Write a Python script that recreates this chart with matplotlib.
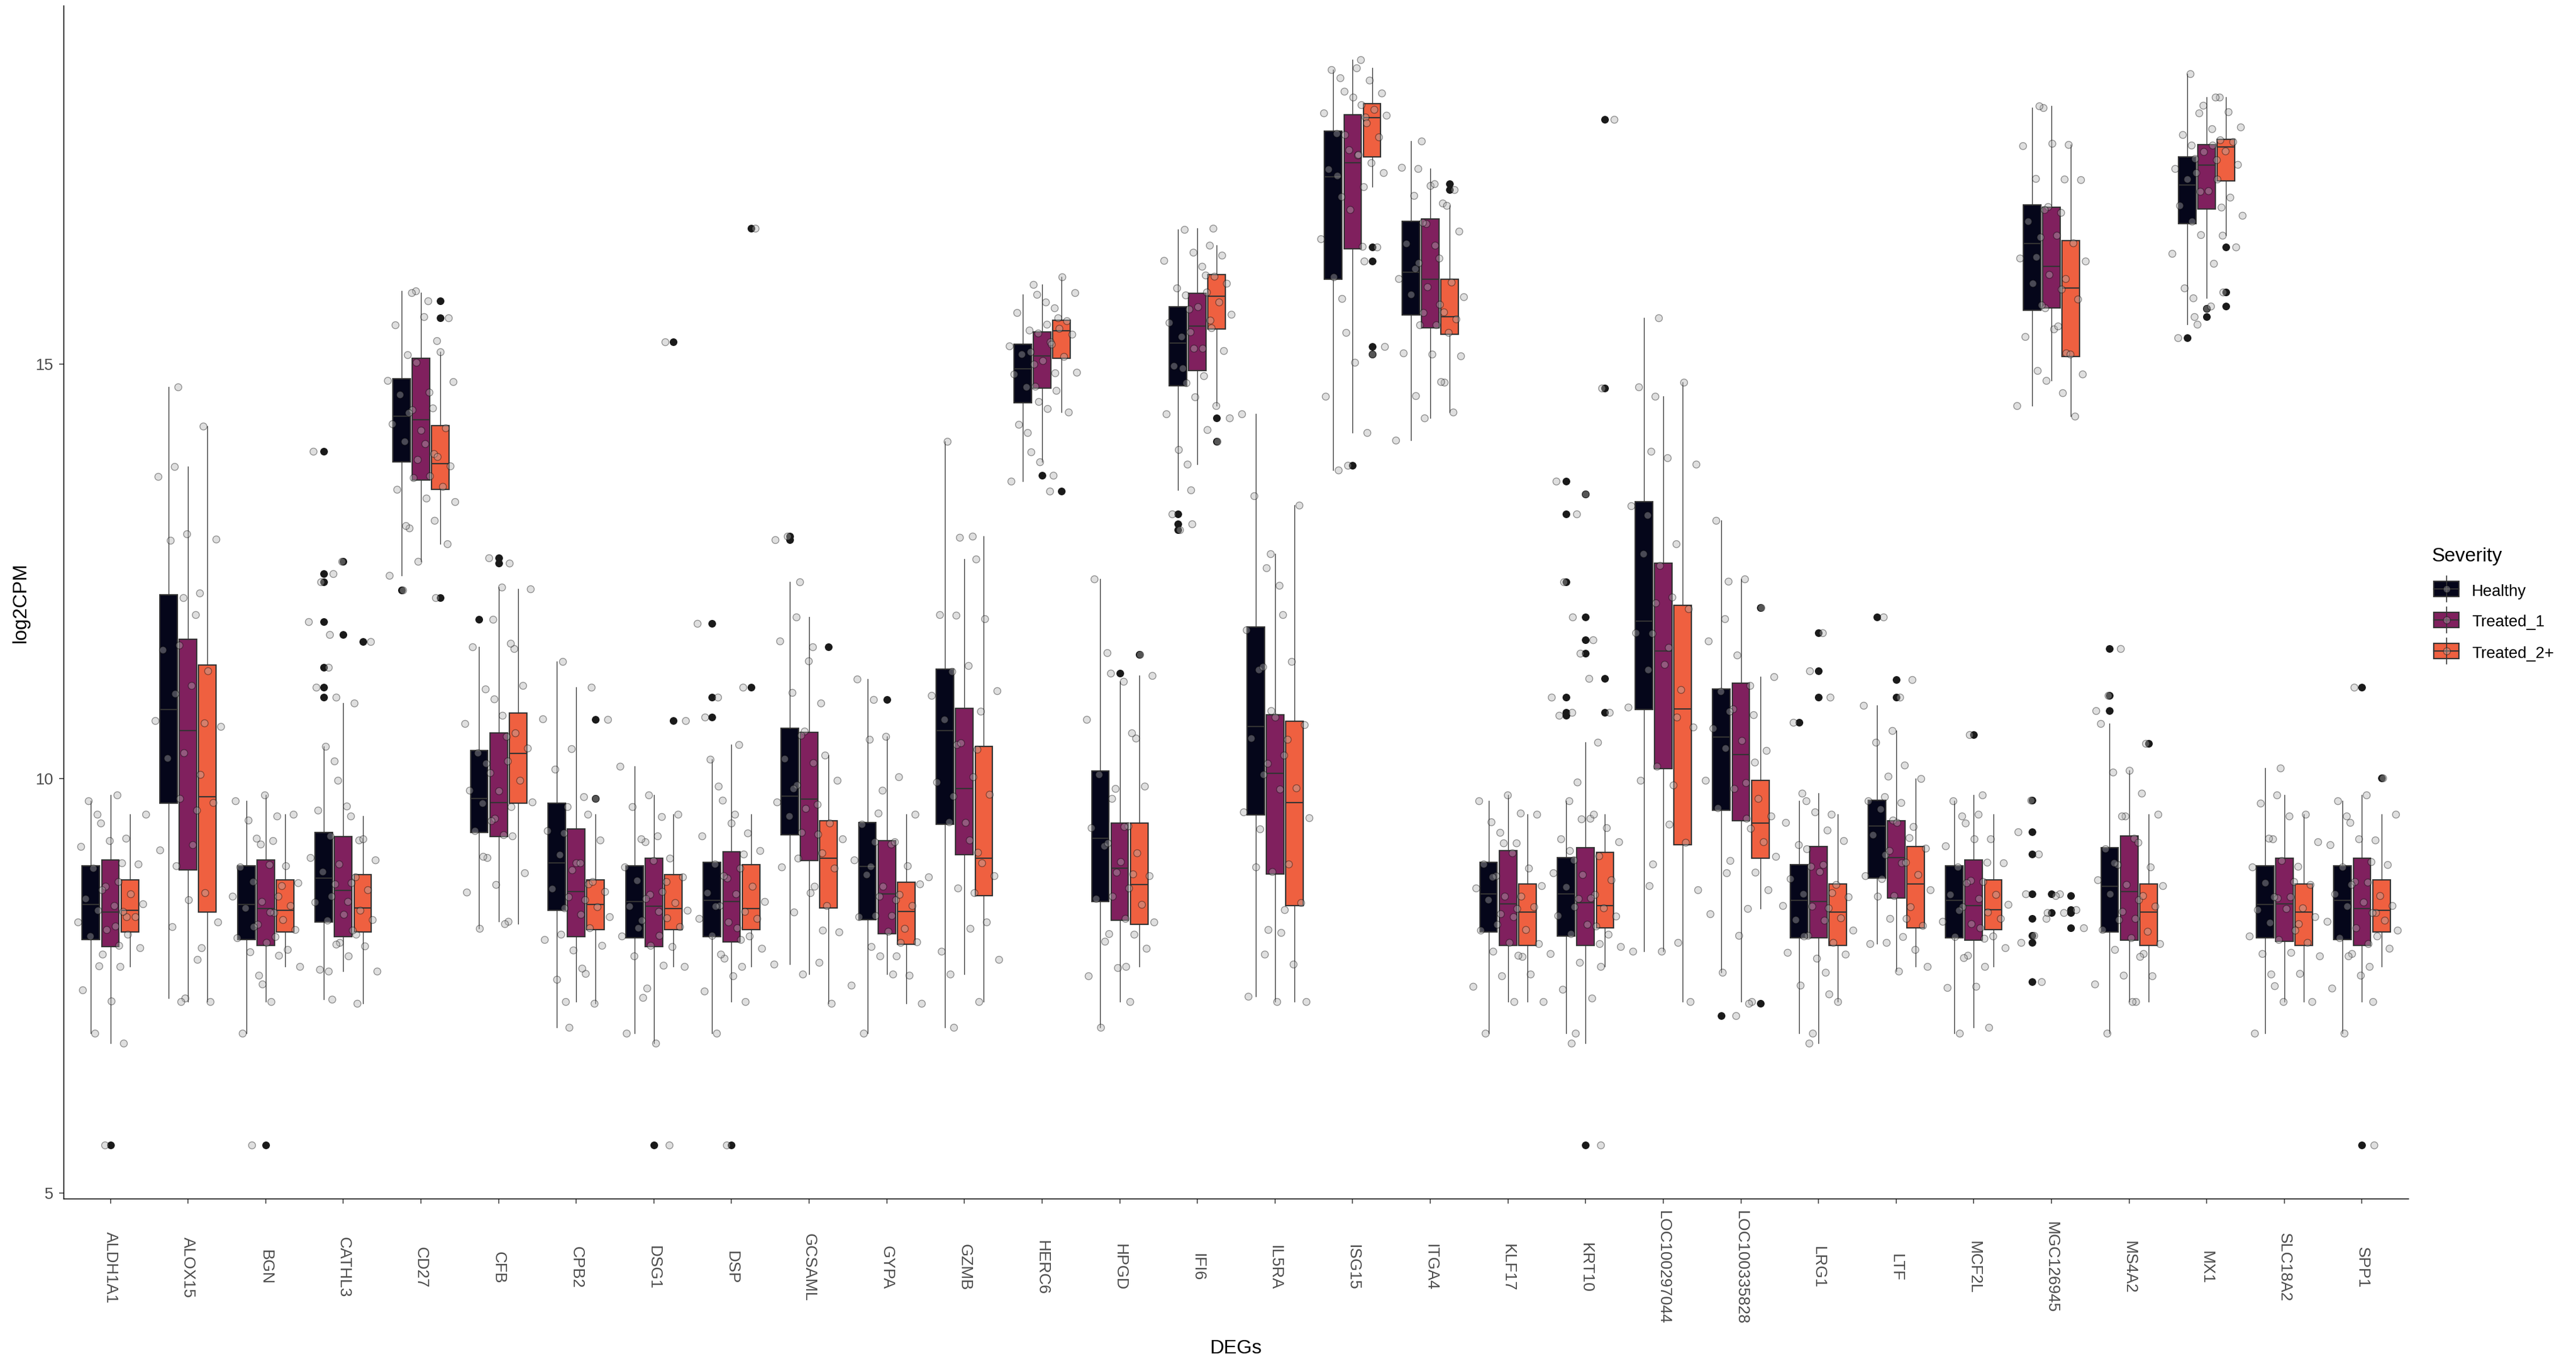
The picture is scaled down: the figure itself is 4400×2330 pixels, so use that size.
import numpy as np
import matplotlib
matplotlib.use('Agg')
import matplotlib.pyplot as plt
from matplotlib.patches import Rectangle

plt.rcParams['font.family'] = ['Liberation Sans', 'DejaVu Sans']

# genes on the x axis
GENES = ['ALDH1A1', 'ALOX15', 'BGN', 'CATHL3', 'CD27', 'CFB', 'CPB2', 'DSG1', 'DSP',
         'GCSAML', 'GYPA', 'GZMB', 'HERC6', 'HPGD', 'IFI6', 'IL5RA', 'ISG15', 'ITGA4',
         'KLF17', 'KRT10', 'LOC100297044', 'LOC100335828', 'LRG1', 'LTF', 'MCF2L',
         'MGC126945', 'MS4A2', 'MX1', 'SLC18A2', 'SPP1']
GROUPS = ['Healthy', 'Treated_1', 'Treated_2+']
COLORS = ['#05061A', '#80205E', '#EF6040']

# box summaries: (whisker low, q1, median, q3, whisker high)
healthy_box = [
    (6.93, 8.06, 8.48, 8.95, 9.73), (7.35, 9.70, 10.83, 12.22, 14.72),
    (6.93, 8.06, 8.48, 8.95, 9.73), (7.34, 8.27, 8.80, 9.35, 10.39),
    (12.45, 13.82, 14.37, 14.82, 15.88), (8.19, 9.35, 9.76, 10.34, 11.59),
    (7.00, 8.41, 8.98, 9.70, 11.41), (6.93, 8.08, 8.52, 8.95, 10.15),
    (6.93, 8.09, 8.53, 8.99, 10.23), (7.76, 9.32, 9.79, 10.61, 12.37),
    (6.93, 8.30, 8.94, 9.47, 11.20), (7.00, 9.45, 10.58, 11.32, 14.07),
    (13.59, 14.53, 14.94, 15.24, 15.84), (7.00, 8.52, 9.28, 10.09, 12.41),
    (13.48, 14.74, 15.25, 15.69, 16.62), (7.37, 9.56, 10.63, 11.83, 14.40),
    (13.72, 16.02, 17.26, 17.81, 18.55), (14.08, 15.59, 16.11, 16.72, 17.69),
    (6.93, 8.15, 8.61, 8.99, 9.73), (6.93, 8.10, 8.61, 9.05, 9.73),
    (7.92, 10.83, 11.90, 13.34, 15.56), (7.66, 9.62, 10.50, 11.08, 13.11),
    (6.93, 8.08, 8.53, 8.96, 9.73), (8.01, 8.80, 9.43, 9.74, 10.88),
    (6.93, 8.08, 8.53, 8.95, 9.73), (14.50, 15.65, 16.45, 16.92, 18.09),
    (6.93, 8.15, 8.70, 9.17, 10.66), (15.48, 16.69, 17.16, 17.50, 18.50),
    (6.93, 8.08, 8.48, 8.95, 10.13), (6.93, 8.06, 8.53, 8.95, 9.73),
]
treated1_box = [
    (6.81, 7.97, 8.39, 9.02, 9.80), (7.31, 8.90, 10.58, 11.68, 13.76),
    (7.31, 7.99, 8.43, 9.02, 9.80), (7.68, 8.09, 8.65, 9.30, 10.91),
    (12.62, 13.60, 14.33, 15.07, 15.86), (8.28, 9.30, 9.71, 10.55, 12.31),
    (7.31, 8.09, 8.64, 9.39, 11.10), (6.81, 7.97, 8.46, 9.04, 9.80),
    (7.31, 8.03, 8.52, 9.12, 10.41), (7.64, 9.01, 9.75, 10.56, 11.95),
    (7.64, 8.13, 8.61, 9.25, 10.51), (7.64, 9.08, 9.88, 10.85, 12.65),
    (13.82, 14.71, 15.10, 15.39, 15.96), (7.31, 8.29, 8.92, 9.46, 11.17),
    (13.79, 14.92, 15.46, 15.85, 16.64), (7.31, 8.85, 10.06, 10.77, 12.71),
    (14.17, 16.39, 17.43, 18.01, 18.67), (14.35, 15.44, 16.02, 16.75, 17.36),
    (7.31, 7.99, 8.49, 9.13, 9.80), (6.81, 7.99, 8.50, 9.17, 10.44),
    (7.92, 10.12, 11.54, 12.60, 14.61), (7.31, 9.49, 10.29, 11.15, 12.41),
    (6.81, 8.08, 8.52, 9.18, 9.82), (7.68, 8.56, 9.05, 9.49, 10.58),
    (7.00, 8.05, 8.47, 9.02, 9.80), (14.80, 15.68, 16.18, 16.89, 18.11),
    (7.31, 8.05, 8.64, 9.31, 10.10), (15.80, 16.87, 17.40, 17.65, 18.22),
    (7.31, 8.04, 8.49, 9.04, 9.80), (7.31, 7.99, 8.43, 9.04, 9.80),
]
treated2_box = [
    (7.73, 8.15, 8.41, 8.78, 9.57), (7.31, 8.39, 9.78, 11.37, 14.25),
    (7.73, 8.15, 8.41, 8.78, 9.57), (7.29, 8.15, 8.44, 8.84, 9.55),
    (12.83, 13.49, 13.80, 14.26, 15.15), (8.25, 9.70, 10.30, 10.79, 12.29),
    (7.29, 8.18, 8.48, 8.78, 9.57), (7.73, 8.18, 8.43, 8.84, 9.57),
    (7.73, 8.18, 8.43, 8.96, 9.57), (7.29, 8.44, 9.04, 9.49, 10.28),
    (7.29, 8.00, 8.40, 8.75, 9.57), (7.31, 8.59, 9.04, 10.39, 12.92),
    (14.42, 15.07, 15.40, 15.53, 16.05), (7.73, 8.24, 8.72, 9.46, 11.24),
    (14.50, 15.42, 15.82, 16.08, 16.43), (7.31, 8.47, 9.71, 10.69, 13.30),
    (17.14, 17.50, 17.97, 18.14, 18.57), (14.42, 15.36, 15.57, 16.02, 16.91),
    (7.31, 7.99, 8.39, 8.73, 9.57), (7.73, 8.20, 8.47, 9.11, 9.57),
    (7.31, 9.20, 10.84, 12.09, 14.78), (8.43, 9.04, 9.46, 9.98, 11.23),
    (7.31, 7.99, 8.39, 8.73, 9.57), (7.73, 8.20, 8.73, 9.18, 10.00),
    (7.73, 8.18, 8.42, 8.78, 9.57), (14.37, 15.09, 15.92, 16.49, 17.65),
    (7.31, 7.99, 8.39, 8.73, 9.57), (16.55, 17.21, 17.62, 17.71, 18.22),
    (7.31, 7.99, 8.39, 8.73, 9.57), (7.73, 8.15, 8.41, 8.78, 9.57),
]

# outliers (black dots)
healthy_out = [[], [], [], [13.95, 12.47, 12.37, 11.89, 11.34, 11.10, 10.98], [12.27], [11.92],
               [], [], [11.87, 10.98, 10.74], [12.92, 12.88], [], [], [], [],
               [13.19, 13.07, 13.00], [], [], [], [], [13.59, 13.19, 12.37, 10.98, 10.80, 10.76],
               [], [7.14], [10.68], [11.95], [], [9.74, 9.36, 9.09, 8.61, 8.31, 8.11, 8.02, 7.55],
               [11.57, 11.00, 10.82], [15.32], [], []]
treated1_out = [[5.58], [], [5.58], [12.62, 11.74], [], [12.66, 12.60], [], [5.58], [5.58], [],
                [10.95], [], [13.66], [11.27], [], [], [13.78], [], [],
                [13.43, 11.95, 11.67, 11.51, 5.58], [], [], [11.76, 11.30, 10.98], [11.19, 10.98],
                [10.53], [8.61, 8.38], [], [15.67, 15.57], [], [11.10, 5.58]]
treated2_out = [[], [], [], [11.65], [15.76, 15.56, 12.18], [], [10.71, 9.76], [15.27, 10.70],
                [16.64, 11.10], [11.59], [], [], [13.47], [11.50], [14.35, 14.07], [],
                [16.41, 16.24, 15.21, 15.12], [17.17, 17.10], [], [17.95, 14.71, 11.21, 10.80],
                [], [12.06, 7.29], [], [], [], [8.59, 8.42, 8.38, 8.20], [10.42],
                [16.41, 15.87, 15.70], [], [10.01]]

# individual samples (grey jittered points), estimated from the cloud
healthy_pts = [
    [6.93, 7.45, 7.88, 8.10, 8.27, 8.41, 8.55, 8.70, 8.92, 9.18, 9.46, 9.73],
    [7.35, 8.21, 9.14, 9.76, 10.25, 10.70, 11.02, 11.55, 12.18, 12.87, 13.64, 14.72],
    [6.93, 7.52, 7.91, 8.08, 8.24, 8.44, 8.58, 8.76, 8.93, 9.21, 9.50, 9.73],
    [7.34, 7.70, 8.02, 8.29, 8.51, 8.73, 8.88, 9.05, 9.31, 9.62, 9.98, 10.39],
    [12.45, 13.02, 13.49, 13.85, 14.07, 14.28, 14.45, 14.63, 14.80, 15.11, 15.47, 15.88],
    [8.19, 8.63, 9.05, 9.37, 9.52, 9.70, 9.86, 10.07, 10.31, 10.66, 11.08, 11.59],
    [7.00, 7.58, 8.06, 8.44, 8.67, 8.90, 9.08, 9.37, 9.66, 10.11, 10.72, 11.41],
    [6.93, 7.47, 7.86, 8.10, 8.29, 8.46, 8.60, 8.77, 8.93, 9.24, 9.66, 10.15],
    [6.93, 7.44, 7.83, 8.11, 8.31, 8.47, 8.62, 8.80, 8.97, 9.31, 9.74, 10.23],
    [7.76, 8.39, 8.93, 9.35, 9.55, 9.72, 9.92, 10.24, 10.57, 11.04, 11.66, 12.37],
    [6.93, 7.51, 7.97, 8.33, 8.58, 8.84, 9.02, 9.24, 9.45, 9.86, 10.47, 11.20],
    [7.00, 7.92, 8.81, 9.48, 9.96, 10.41, 10.71, 11.00, 11.29, 11.98, 12.91, 14.07],
    [13.59, 13.94, 14.27, 14.55, 14.72, 14.88, 15.00, 15.12, 15.22, 15.41, 15.62, 15.84],
    [7.00, 7.62, 8.13, 8.55, 8.87, 9.19, 9.41, 9.76, 10.05, 10.71, 11.52, 12.41],
    [13.48, 13.97, 14.40, 14.77, 14.98, 15.19, 15.33, 15.50, 15.66, 15.92, 16.25, 16.62],
    [7.37, 8.18, 8.93, 9.60, 10.05, 10.49, 10.82, 11.31, 11.79, 12.54, 13.41, 14.40],
    [13.72, 14.61, 15.38, 16.05, 16.51, 17.02, 17.35, 17.58, 17.78, 18.03, 18.29, 18.55],
    [14.08, 14.62, 15.13, 15.62, 15.84, 16.03, 16.22, 16.45, 16.69, 17.03, 17.37, 17.69],
    [6.93, 7.49, 7.92, 8.17, 8.37, 8.54, 8.68, 8.83, 8.97, 9.22, 9.48, 9.73],
    [6.93, 7.46, 7.89, 8.13, 8.35, 8.55, 8.69, 8.86, 9.02, 9.27, 9.51, 9.73],
    [7.92, 8.97, 9.98, 10.86, 11.31, 11.76, 12.12, 12.71, 13.29, 13.95, 14.72, 15.56],
    [7.66, 8.37, 9.01, 9.65, 9.98, 10.37, 10.61, 10.84, 11.05, 11.66, 12.38, 13.11],
    [6.93, 7.51, 7.90, 8.11, 8.30, 8.47, 8.61, 8.79, 8.94, 9.20, 9.47, 9.73],
    [8.01, 8.31, 8.58, 8.83, 9.08, 9.32, 9.50, 9.63, 9.73, 10.03, 10.44, 10.88],
    [6.93, 7.48, 7.87, 8.09, 8.28, 8.45, 8.60, 8.77, 8.93, 9.19, 9.46, 9.73],
    [14.50, 14.92, 15.33, 15.68, 15.97, 16.28, 16.53, 16.72, 16.90, 17.24, 17.63, 18.09],
    [6.93, 7.52, 7.94, 8.18, 8.40, 8.61, 8.78, 8.96, 9.15, 9.55, 10.08, 10.66],
    [15.48, 15.92, 16.33, 16.72, 16.91, 17.08, 17.23, 17.36, 17.48, 17.77, 18.12, 18.50],
    [6.93, 7.50, 7.89, 8.10, 8.26, 8.42, 8.56, 8.74, 8.93, 9.27, 9.70, 10.13],
    [6.93, 7.47, 7.89, 8.08, 8.28, 8.46, 8.61, 8.76, 8.93, 9.20, 9.47, 9.73],
]
treated1_pts = [
    [6.81, 7.32, 7.74, 7.99, 8.18, 8.33, 8.47, 8.66, 8.98, 9.25, 9.57, 9.80],
    [7.31, 7.96, 8.54, 8.95, 9.62, 10.31, 10.67, 11.12, 11.61, 12.24, 12.95, 13.76],
    [7.31, 7.63, 7.87, 8.02, 8.21, 8.38, 8.52, 8.71, 8.96, 9.28, 9.55, 9.80],
    [7.68, 7.86, 8.00, 8.12, 8.36, 8.58, 8.74, 8.97, 9.26, 9.67, 10.21, 10.91],
    [12.62, 13.05, 13.38, 13.63, 13.92, 14.20, 14.41, 14.66, 15.02, 15.28, 15.57, 15.86],
    [8.28, 8.72, 9.06, 9.32, 9.49, 9.66, 9.85, 10.18, 10.51, 10.96, 11.57, 12.31],
    [7.31, 7.65, 7.93, 8.12, 8.36, 8.57, 8.73, 8.98, 9.34, 9.78, 10.36, 11.10],
    [6.81, 7.36, 7.75, 7.99, 8.20, 8.40, 8.55, 8.76, 9.01, 9.27, 9.54, 9.80],
    [7.31, 7.62, 7.88, 8.06, 8.27, 8.46, 8.61, 8.83, 9.09, 9.46, 9.91, 10.41],
    [7.64, 8.17, 8.62, 9.04, 9.33, 9.64, 9.88, 10.19, 10.52, 10.91, 11.42, 11.95],
    [7.64, 7.86, 8.02, 8.16, 8.35, 8.54, 8.70, 8.94, 9.21, 9.58, 10.02, 10.51],
    [7.64, 8.19, 8.68, 9.11, 9.47, 9.79, 10.02, 10.43, 10.81, 11.36, 11.97, 12.65],
    [13.82, 14.17, 14.46, 14.73, 14.89, 15.04, 15.15, 15.27, 15.37, 15.56, 15.75, 15.96],
    [7.31, 7.72, 8.04, 8.31, 8.58, 8.85, 9.00, 9.22, 9.43, 9.88, 10.49, 11.17],
    [13.79, 14.21, 14.60, 14.95, 15.19, 15.39, 15.53, 15.69, 15.83, 16.07, 16.35, 16.64],
    [7.31, 7.88, 8.42, 8.88, 9.39, 9.87, 10.18, 10.47, 10.74, 11.35, 11.98, 12.71],
    [14.17, 15.02, 15.79, 16.42, 16.86, 17.27, 17.52, 17.77, 17.98, 18.22, 18.45, 18.67],
    [14.35, 14.78, 15.12, 15.47, 15.72, 15.93, 16.15, 16.43, 16.71, 16.94, 17.15, 17.36],
    [7.31, 7.62, 7.85, 8.02, 8.24, 8.43, 8.58, 8.81, 9.10, 9.35, 9.58, 9.80],
    [6.81, 7.35, 7.78, 8.01, 8.24, 8.45, 8.60, 8.84, 9.13, 9.52, 9.96, 10.44],
    [7.92, 8.71, 9.45, 10.15, 10.74, 11.38, 11.75, 12.19, 12.57, 13.18, 13.87, 14.61],
    [7.31, 8.11, 8.86, 9.52, 9.88, 10.20, 10.46, 10.81, 11.12, 11.49, 11.93, 12.41],
    [6.81, 7.40, 7.83, 8.10, 8.29, 8.46, 8.62, 8.88, 9.15, 9.38, 9.60, 9.82],
    [7.68, 8.02, 8.31, 8.59, 8.79, 8.98, 9.13, 9.29, 9.47, 9.78, 10.16, 10.58],
    [7.00, 7.49, 7.84, 8.07, 8.25, 8.41, 8.55, 8.74, 8.99, 9.27, 9.55, 9.80],
    [14.80, 15.13, 15.42, 15.71, 15.90, 16.08, 16.29, 16.55, 16.86, 17.23, 17.66, 18.11],
    [7.31, 7.63, 7.89, 8.08, 8.30, 8.54, 8.72, 8.98, 9.28, 9.55, 9.82, 10.10],
    [15.80, 16.21, 16.56, 16.89, 17.09, 17.31, 17.46, 17.56, 17.64, 17.84, 18.03, 18.22],
    [7.31, 7.64, 7.90, 8.06, 8.25, 8.43, 8.57, 8.76, 9.01, 9.28, 9.55, 9.80],
    [7.31, 7.63, 7.86, 8.01, 8.20, 8.38, 8.51, 8.72, 9.00, 9.27, 9.55, 9.80],
]
treated2_pts = [
    [7.73, 7.96, 8.12, 8.22, 8.33, 8.40, 8.49, 8.61, 8.76, 8.97, 9.28, 9.57],
    [7.31, 7.82, 8.27, 8.62, 9.20, 9.71, 10.05, 10.63, 11.30, 11.98, 12.89, 14.25],
    [7.73, 7.94, 8.09, 8.18, 8.30, 8.39, 8.47, 8.58, 8.74, 8.95, 9.25, 9.57],
    [7.29, 7.68, 7.98, 8.17, 8.30, 8.41, 8.52, 8.66, 8.81, 9.02, 9.27, 9.55],
    [12.83, 13.11, 13.34, 13.52, 13.65, 13.77, 13.88, 14.04, 14.23, 14.47, 14.79, 15.15],
    [8.25, 8.86, 9.31, 9.72, 9.98, 10.21, 10.37, 10.55, 10.76, 11.12, 11.63, 12.29],
    [7.29, 7.71, 7.99, 8.20, 8.33, 8.45, 8.54, 8.64, 8.76, 8.98, 9.26, 9.57],
    [7.73, 7.97, 8.11, 8.21, 8.32, 8.41, 8.50, 8.64, 8.81, 9.04, 9.31, 9.57],
    [7.73, 7.95, 8.10, 8.20, 8.31, 8.40, 8.52, 8.70, 8.92, 9.13, 9.34, 9.57],
    [7.29, 7.78, 8.15, 8.47, 8.70, 8.92, 9.10, 9.27, 9.46, 9.69, 9.98, 10.28],
    [7.29, 7.63, 7.86, 8.03, 8.19, 8.35, 8.47, 8.60, 8.73, 8.95, 9.24, 9.57],
    [7.31, 7.82, 8.27, 8.62, 8.83, 8.98, 9.26, 9.81, 10.35, 11.06, 11.93, 12.92],
    [14.42, 14.68, 14.90, 15.09, 15.24, 15.36, 15.43, 15.48, 15.52, 15.68, 15.86, 16.05],
    [7.73, 7.95, 8.12, 8.27, 8.48, 8.68, 8.83, 9.10, 9.42, 9.91, 10.55, 11.24],
    [14.50, 14.86, 15.16, 15.44, 15.60, 15.75, 15.87, 15.97, 16.06, 16.18, 16.31, 16.43],
    [7.31, 7.76, 8.14, 8.50, 8.97, 9.53, 9.89, 10.28, 10.65, 11.41, 12.33, 13.30],
    [17.14, 17.31, 17.43, 17.53, 17.74, 17.91, 18.00, 18.07, 18.13, 18.27, 18.42, 18.57],
    [14.42, 14.79, 15.10, 15.38, 15.47, 15.54, 15.63, 15.81, 15.99, 16.28, 16.60, 16.91],
    [7.31, 7.64, 7.87, 8.01, 8.18, 8.33, 8.45, 8.58, 8.71, 8.92, 9.22, 9.57],
    [7.73, 7.97, 8.12, 8.22, 8.34, 8.44, 8.56, 8.78, 9.07, 9.24, 9.41, 9.57],
    [7.31, 8.02, 8.66, 9.23, 9.92, 10.62, 11.07, 11.58, 12.05, 12.83, 13.79, 14.78],
    [8.43, 8.66, 8.87, 9.06, 9.24, 9.40, 9.55, 9.76, 9.95, 10.34, 10.77, 11.23],
    [7.31, 7.66, 7.88, 8.02, 8.17, 8.32, 8.44, 8.57, 8.72, 8.96, 9.25, 9.57],
    [7.73, 7.94, 8.09, 8.23, 8.45, 8.66, 8.84, 8.99, 9.16, 9.42, 9.71, 10.00],
    [7.73, 7.96, 8.10, 8.20, 8.31, 8.39, 8.48, 8.60, 8.76, 8.98, 9.27, 9.57],
    [14.37, 14.65, 14.88, 15.12, 15.46, 15.78, 16.03, 16.24, 16.46, 16.83, 17.22, 17.65],
    [7.31, 7.62, 7.85, 8.01, 8.16, 8.31, 8.46, 8.59, 8.71, 8.93, 9.23, 9.57],
    [16.55, 16.79, 17.01, 17.23, 17.41, 17.57, 17.64, 17.68, 17.70, 17.86, 18.04, 18.22],
    [7.31, 7.65, 7.86, 8.02, 8.17, 8.33, 8.44, 8.57, 8.72, 8.94, 9.24, 9.57],
    [7.73, 7.95, 8.10, 8.17, 8.29, 8.38, 8.47, 8.59, 8.75, 8.96, 9.26, 9.57],
]

W, H = 4400, 2330
EDGE = '#333333'
DODGE = [-0.25, 0.0, 0.25]
PT_STYLE = dict(s=75, facecolor='#B0B0B0', edgecolor='black', linewidths=1.0, alpha=0.4)


def jitter(i, g, k):
    # deterministic spread of the points inside each dodged column
    return (((k + 1) * 0.618034 + i * 0.377 + g * 0.29) % 1.0 - 0.5) * 0.42


fig = plt.figure(figsize=(W / 100, H / 100), dpi=100)
ax = fig.add_axes([109 / W, 1 - 2048 / H, (4114 - 109) / W, (2048 - 10) / H])

boxes = [healthy_box, treated1_box, treated2_box]
outs = [healthy_out, treated1_out, treated2_out]
pts = [healthy_pts, treated1_pts, treated2_pts]

for g in range(3):
    stats = []
    for i, gene in enumerate(GENES):
        lo, q1, med, q3, hi = boxes[g][i]
        stats.append(dict(whislo=lo, q1=q1, med=med, q3=q3, whishi=hi,
                          fliers=outs[g][i], label=gene))
    pos = [i + 1 + DODGE[g] for i in range(len(GENES))]
    ax.bxp(stats, positions=pos, widths=0.225, patch_artist=True, showcaps=False,
           manage_ticks=False,
           boxprops=dict(facecolor=COLORS[g], edgecolor=EDGE, linewidth=1.6),
           medianprops=dict(color=EDGE, linewidth=1.6),
           whiskerprops=dict(color=EDGE, linewidth=1.0),
           flierprops=dict(marker='o', markerfacecolor='#1a1a1a', markeredgecolor='#1a1a1a',
                           markersize=8.4, linestyle='none'))

# jittered samples on top
for g in range(3):
    for i in range(len(GENES)):
        vals = pts[g][i] + outs[g][i]
        xs = [i + 1 + DODGE[g] + jitter(i, g, k) for k in range(len(vals))]
        ax.scatter(xs, vals, zorder=4, **PT_STYLE)

ax.set_xlim(0.4, 30.6)
ax.set_ylim(4.93, 19.32)
ax.set_xticks(range(1, len(GENES) + 1))
ax.set_xticklabels(GENES, rotation=270, ha='center', va='center',
                   fontsize=19.8, color='#4D4D4D')
ax.set_yticks([5, 10, 15])
ax.set_yticklabels(['5', '10', '15'], fontsize=19.8, color='#4D4D4D')
ax.tick_params(axis='x', length=5.8, width=1.1, color=EDGE, pad=78.5)
ax.tick_params(axis='y', length=5.8, width=1.1, color=EDGE, pad=7)
for s in ['top', 'right']:
    ax.spines[s].set_visible(False)
for s in ['left', 'bottom']:
    ax.spines[s].set_linewidth(1.1)
    ax.spines[s].set_color('black')

fig.text(35 / W, 1 - 1029 / H, 'log2CPM', rotation=90, ha='center', va='center', fontsize=24)
fig.text(2111 / W, 1 - 2304 / H, 'DEGs', ha='center', va='center', fontsize=24)

# legend drawn by hand to get the ggplot style box keys
lax = fig.add_axes([0, 0, 1, 1])
lax.set_xlim(0, W)
lax.set_ylim(H, 0)
lax.axis('off')
lax.text(4153, 959, 'Severity', fontsize=24, ha='left', va='baseline')
for g, (name, col) in enumerate(zip(GROUPS, COLORS)):
    yc = 1006 + 53 * g
    lax.plot([4178.5, 4178.5], [yc - 22, yc + 22], color=EDGE, lw=1.2)
    lax.add_patch(Rectangle((4157, yc - 13), 43, 26, facecolor=col, edgecolor=EDGE, lw=1.6))
    lax.plot([4157, 4200], [yc, yc], color=EDGE, lw=1.6)
    lax.scatter([4178.5], [yc], zorder=4, **PT_STYLE)
    lax.text(4222, yc + 11.5, name, fontsize=19.8, ha='left', va='baseline')

fig.savefig('out.png', dpi=100, facecolor='white')
